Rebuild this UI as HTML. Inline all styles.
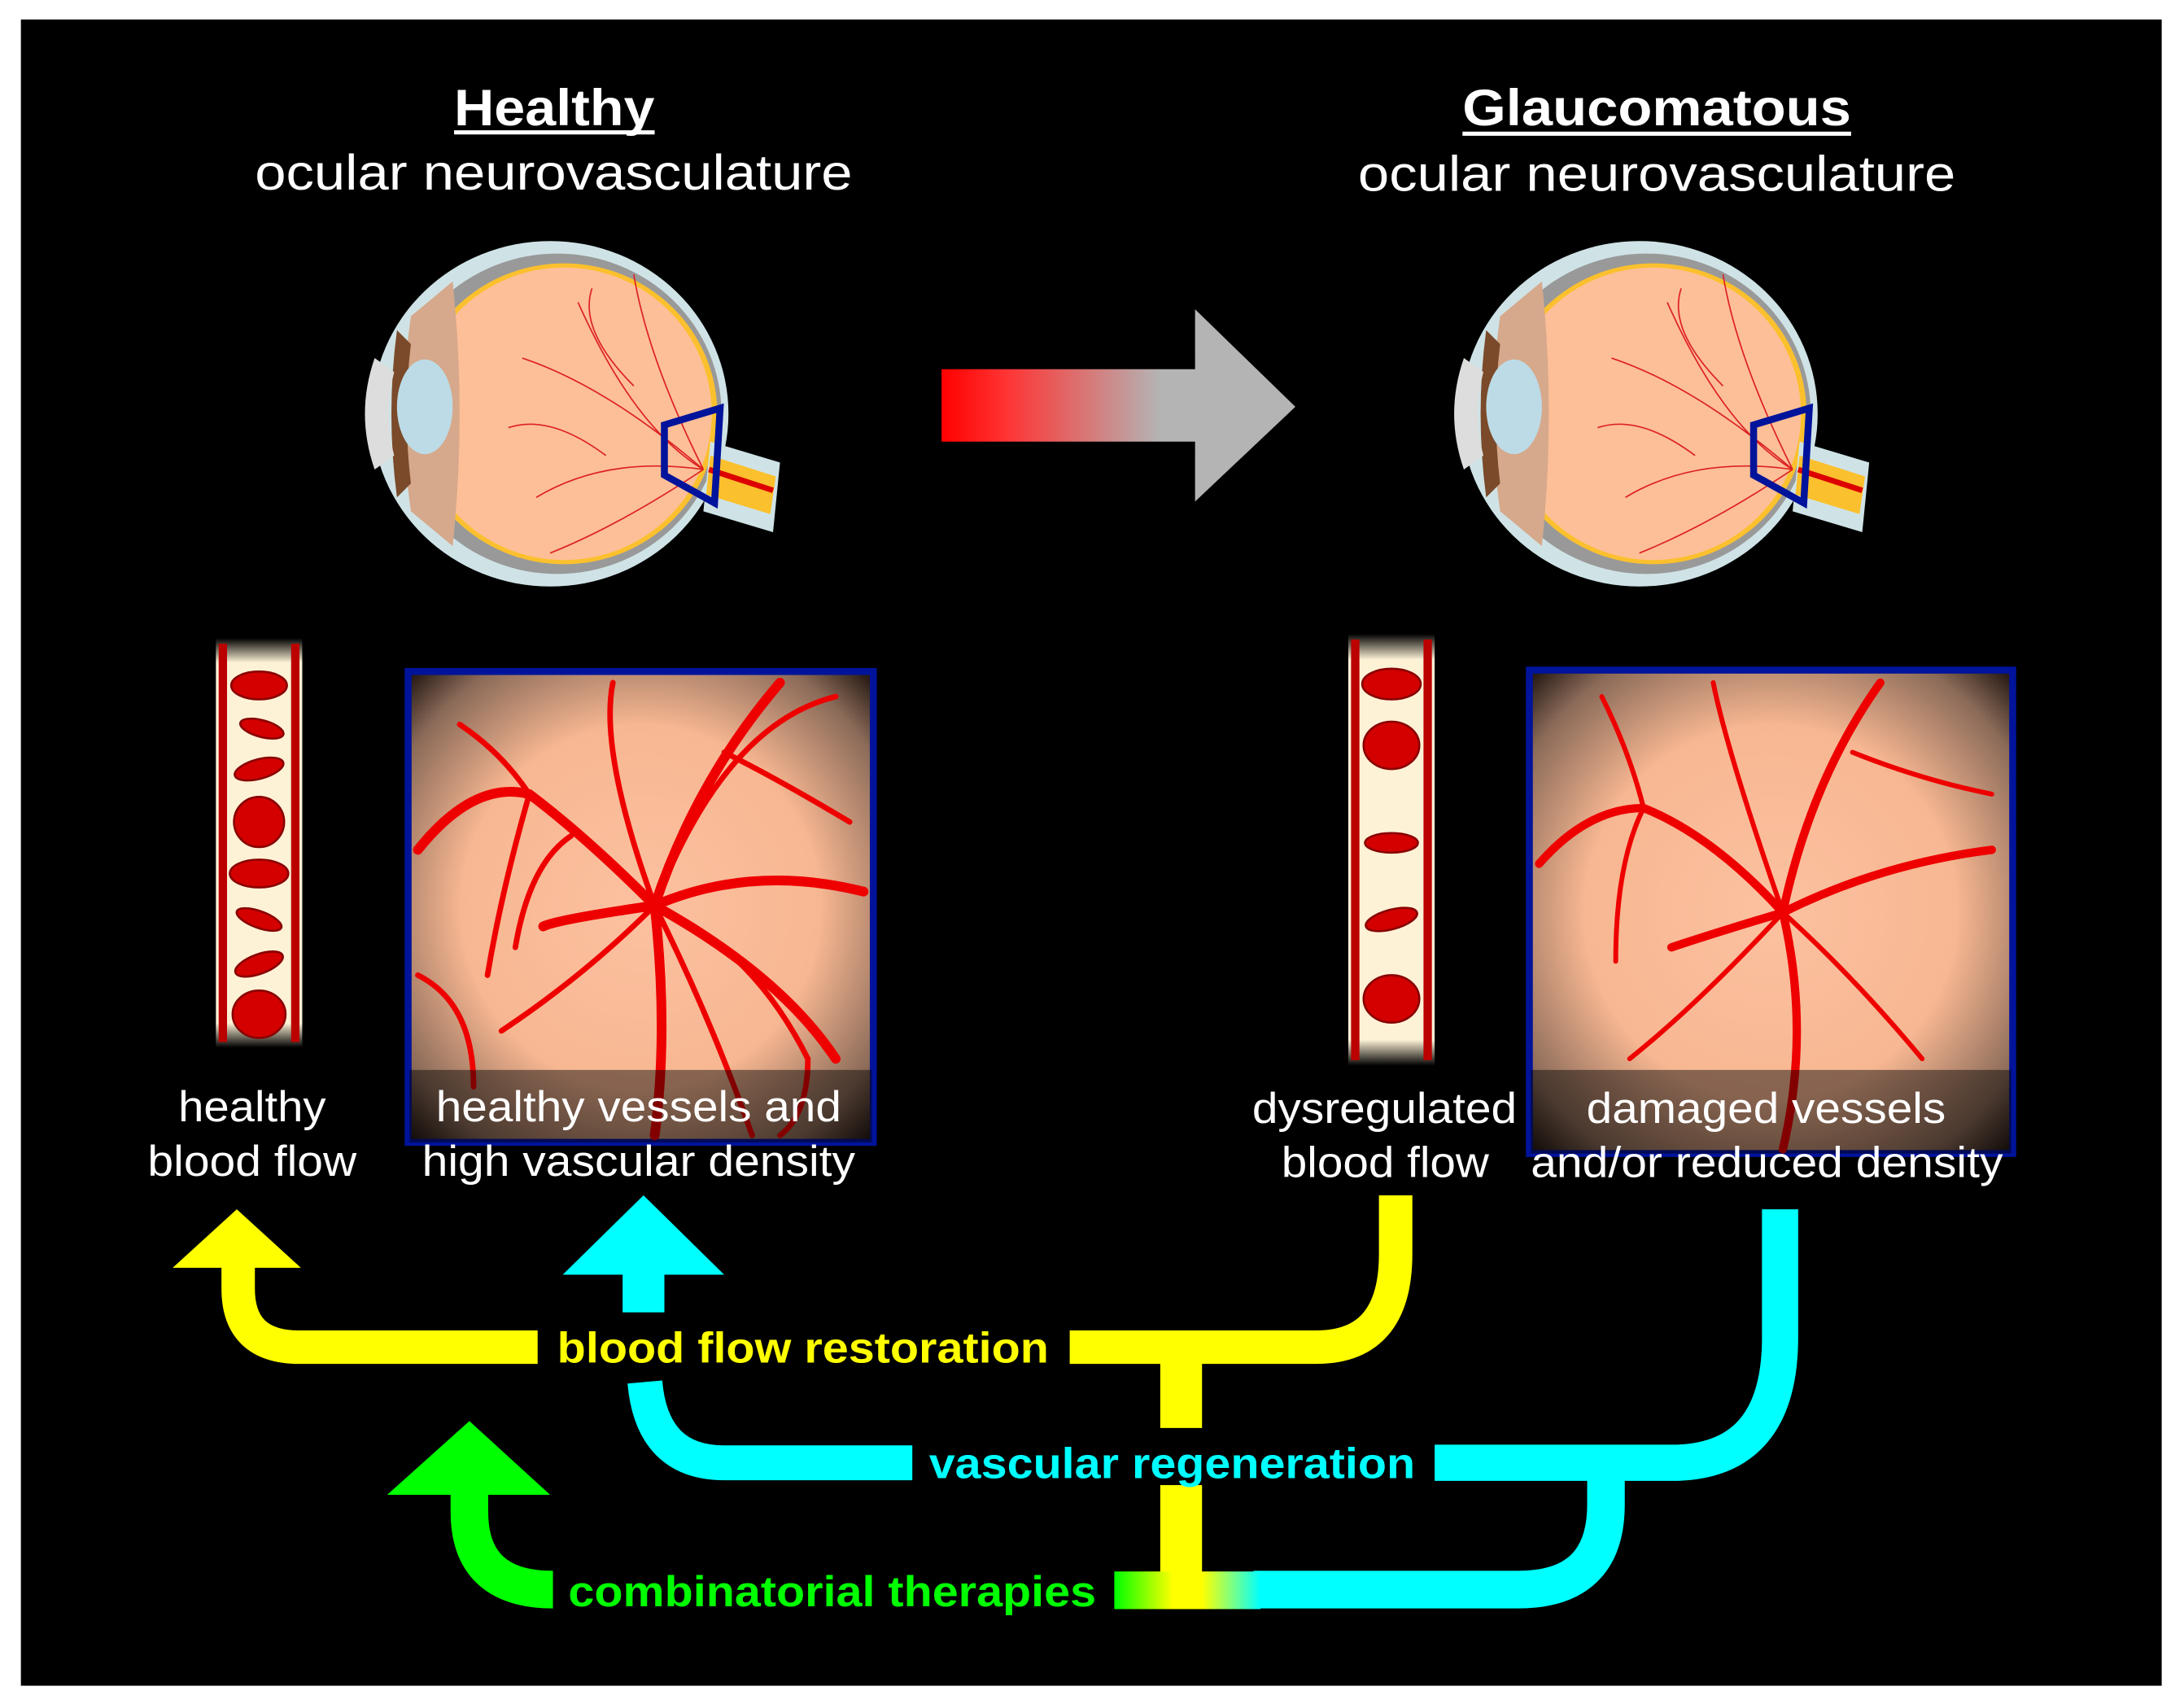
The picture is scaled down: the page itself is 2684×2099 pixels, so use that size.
<!DOCTYPE html>
<html><head><meta charset="utf-8"><style>
html,body{margin:0;padding:0;background:#fff;}
svg{display:block;}
text{font-family:"Liberation Sans",Arial,sans-serif;}
</style></head><body>
<svg width="2684" height="2099" viewBox="0 0 1568 1226" preserveAspectRatio="none" xmlns="http://www.w3.org/2000/svg">
<defs>
<linearGradient id="arr" x1="0" x2="1" y1="0" y2="0">
<stop offset="0" stop-color="#ff0000"/><stop offset="0.25" stop-color="#f33"/><stop offset="0.85" stop-color="#b4b4b4"/><stop offset="1" stop-color="#b4b4b4"/></linearGradient>
<radialGradient id="fund" cx="0.5" cy="0.5" r="0.7">
<stop offset="0" stop-color="#fcc1a0"/><stop offset="0.55" stop-color="#f7b792"/><stop offset="0.85" stop-color="#8a6a58"/><stop offset="1" stop-color="#201510"/></radialGradient>
<linearGradient id="tube" x1="0" x2="0" y1="0" y2="1">
<stop offset="0" stop-color="#000"/><stop offset="0.06" stop-color="#fdf2d6"/><stop offset="0.94" stop-color="#fdf2d6"/><stop offset="1" stop-color="#000"/></linearGradient>
<linearGradient id="comb" x1="0" x2="1">
<stop offset="0" stop-color="#00ff00"/><stop offset="0.4" stop-color="#ffff00"/><stop offset="0.6" stop-color="#ffff00"/><stop offset="1" stop-color="#00ffff"/></linearGradient>
<g id="eye">
<ellipse cx="0" cy="0" rx="128" ry="124" fill="#cfe3e6"/>
<ellipse cx="5" cy="0" rx="118" ry="115" fill="#999"/>
<ellipse cx="10" cy="0" rx="110" ry="108" fill="#fbc02d"/>
<ellipse cx="10" cy="0" rx="106" ry="105" fill="#fdbf97"/>
<path d="M-70 -95 Q-60 0 -70 95 L-100 70 Q-110 0 -100 -70 Z" fill="#d6a98c"/>
<path d="M-110 -60 Q-118 0 -110 60 L-100 50 Q-106 0 -100 -50Z" fill="#7a4a2a"/>
<ellipse cx="-90" cy="-5" rx="20" ry="34" fill="#bcdbe6"/>
<path d="M-126 -40 Q-140 0 -126 40 L-112 30 Q-120 0 -112 -30Z" fill="#ddd"/>
<path d="M115 20 L165 35 L160 85 L110 70Z" fill="#cfe3e6"/>
<path d="M115 30 L162 45 L158 72 L112 58Z" fill="#fbc02d"/>
<path d="M114 40 L160 55" stroke="#d00" stroke-width="4"/>
<g stroke="#d22" stroke-width="1" fill="none">
<path d="M110 40 Q60 10 20 -80"/><path d="M110 40 Q40 -20 -20 -40"/><path d="M110 40 Q40 30 -10 60"/><path d="M110 40 Q50 80 0 100"/><path d="M110 40 Q70 -40 60 -100"/><path d="M60 -20 Q20 -60 30 -90"/><path d="M40 30 Q0 0 -30 10"/>
</g>
<path d="M82 8 L122 -4 L118 64 L82 44 Z" fill="none" stroke="#00139b" stroke-width="5"/>
</g>
</defs>
<rect x="0" y="0" width="1568" height="1226" fill="#fff"/>
<rect x="15" y="14" width="1537" height="1196" fill="#000"/>

<text x="326" y="90" font-size="37" font-weight="bold" fill="#fff" textLength="144" lengthAdjust="spacingAndGlyphs">Healthy</text>
<line x1="326" y1="95" x2="470" y2="95" stroke="#fff" stroke-width="3"/>
<text x="183" y="136" font-size="36" fill="#fff" textLength="429" lengthAdjust="spacingAndGlyphs">ocular neurovasculature</text>
<text x="1050" y="90" font-size="37" font-weight="bold" fill="#fff" textLength="279" lengthAdjust="spacingAndGlyphs">Glaucomatous</text>
<line x1="1050" y1="96" x2="1329" y2="96" stroke="#fff" stroke-width="3"/>
<text x="975" y="137" font-size="36" fill="#fff" textLength="429" lengthAdjust="spacingAndGlyphs">ocular neurovasculature</text>

<use href="#eye" transform="translate(395,297)"/>
<use href="#eye" transform="translate(1177,297)"/>

<rect x="676" y="265" width="184" height="52" fill="url(#arr)"/>
<path d="M858 222 L930 292 L858 360Z" fill="#b4b4b4"/>

<g>
<rect x="155" y="458" width="62" height="294" fill="url(#tube)"/>
<rect x="157" y="462" width="6" height="286" fill="#b00"/><rect x="209" y="462" width="6" height="286" fill="#b00"/>
<g fill="#d40000" stroke="#800" stroke-width="1.5">
<ellipse cx="186" cy="492" rx="20" ry="10"/><ellipse cx="188" cy="523" rx="16" ry="6" transform="rotate(15 188 523)"/><ellipse cx="186" cy="552" rx="18" ry="7" transform="rotate(-15 186 552)"/><ellipse cx="186" cy="590" rx="18" ry="18"/><ellipse cx="186" cy="627" rx="21" ry="10"/><ellipse cx="186" cy="660" rx="17" ry="6" transform="rotate(20 186 660)"/><ellipse cx="186" cy="692" rx="18" ry="7" transform="rotate(-20 186 692)"/><ellipse cx="186" cy="728" rx="19" ry="17"/>
</g>
<rect x="968" y="455" width="62" height="310" fill="url(#tube)"/>
<rect x="970" y="459" width="6" height="302" fill="#b00"/><rect x="1022" y="459" width="6" height="302" fill="#b00"/>
<g fill="#d40000" stroke="#800" stroke-width="1.5">
<ellipse cx="999" cy="491" rx="21" ry="11"/><ellipse cx="999" cy="535" rx="20" ry="17"/><ellipse cx="999" cy="605" rx="19" ry="7"/><ellipse cx="999" cy="660" rx="19" ry="7" transform="rotate(-15 999 660)"/><ellipse cx="999" cy="717" rx="20" ry="17"/>
</g>
</g>

<rect x="293" y="482" width="334" height="338" fill="url(#fund)" stroke="#00139b" stroke-width="5"/>
<g stroke="#ee0000" fill="none" stroke-linecap="round">
<g stroke-width="7"><path d="M470 650 Q420 600 380 570 Q340 560 300 610"/><path d="M470 650 Q500 560 560 490"/><path d="M470 650 Q540 620 620 640"/><path d="M470 650 Q480 740 470 815"/><path d="M470 650 Q400 660 390 665"/><path d="M470 650 Q560 700 600 760"/></g>
<g stroke-width="4"><path d="M470 650 Q430 540 440 490"/><path d="M470 650 Q520 520 600 500"/><path d="M470 650 Q420 700 360 740"/><path d="M470 650 Q540 680 580 760 Q580 800 560 815"/><path d="M380 570 Q360 640 350 700"/><path d="M470 650 Q510 730 540 815"/><path d="M410 600 Q380 620 370 680"/><path d="M300 700 Q340 720 340 780"/><path d="M520 540 Q560 560 610 590"/><path d="M330 520 Q360 540 380 570"/></g>
</g>
<rect x="1098" y="481" width="347" height="347" fill="url(#fund)" stroke="#00139b" stroke-width="5"/>
<g stroke="#ee0000" fill="none" stroke-linecap="round">
<g stroke-width="6"><path d="M1280 655 Q1230 600 1180 580 Q1140 580 1105 620"/><path d="M1280 655 Q1300 560 1350 490"/><path d="M1280 655 Q1350 620 1430 610"/><path d="M1280 655 Q1300 740 1280 825"/><path d="M1280 655 Q1230 670 1200 680"/></g>
<g stroke-width="3.5"><path d="M1280 655 Q1240 540 1230 490"/><path d="M1280 655 Q1330 700 1380 760"/><path d="M1280 655 Q1220 720 1170 760"/><path d="M1180 580 Q1160 620 1160 690"/><path d="M1330 540 Q1380 560 1430 570"/><path d="M1150 500 Q1170 540 1180 580"/></g>
</g>
<rect x="294" y="768" width="332" height="52" fill="rgba(0,0,0,0.45)"/>
<rect x="1099" y="768" width="345" height="60" fill="rgba(0,0,0,0.45)"/>

<g font-size="31" fill="#fff" lengthAdjust="spacingAndGlyphs">
<text x="128" y="805" textLength="106" lengthAdjust="spacingAndGlyphs">healthy</text><text x="106" y="844" textLength="150" lengthAdjust="spacingAndGlyphs">blood flow</text>
<text x="313" y="805" textLength="291" lengthAdjust="spacingAndGlyphs">healthy vessels and</text><text x="303" y="844" textLength="311" lengthAdjust="spacingAndGlyphs">high vascular density</text>
<text x="899" y="806" textLength="190" lengthAdjust="spacingAndGlyphs">dysregulated</text><text x="920" y="845" textLength="149" lengthAdjust="spacingAndGlyphs">blood flow</text>
<text x="1139" y="806" textLength="258" lengthAdjust="spacingAndGlyphs">damaged vessels</text><text x="1099" y="845" textLength="339" lengthAdjust="spacingAndGlyphs">and/or reduced density</text>
</g>

<path d="M124 910 L170 868 L216 910Z" fill="#ffff00"/>
<path d="M171 908 L171 925 Q171 967 215 967 L386 967" stroke="#ffff00" stroke-width="24" fill="none"/>
<path d="M768 967 L945 967 Q1002 967 1002 900 L1002 858" stroke="#ffff00" stroke-width="24" fill="none"/>
<rect x="833" y="978" width="30" height="47" fill="#ffff00"/>
<rect x="833" y="1066" width="30" height="64" fill="#ffff00"/>
<text x="400" y="978" font-size="31" font-weight="bold" fill="#ffff00" textLength="353" lengthAdjust="spacingAndGlyphs">blood flow restoration</text>

<path d="M404 915 L462 858 L520 915Z" fill="#00ffff"/>
<rect x="447" y="913" width="30" height="29" fill="#00ffff"/>
<path d="M463 992 Q468 1050 520 1050 L655 1050" stroke="#00ffff" stroke-width="25" fill="none"/>
<path d="M1030 1050 L1200 1050 Q1278 1050 1278 960 L1278 868" stroke="#00ffff" stroke-width="26" fill="none"/>
<path d="M1153 1060 L1153 1080 Q1153 1141 1090 1141 L900 1141" stroke="#00ffff" stroke-width="27" fill="none"/>
<text x="667" y="1061" font-size="31" font-weight="bold" fill="#00ffff" textLength="349" lengthAdjust="spacingAndGlyphs">vascular regeneration</text>

<path d="M278 1073 L337 1020 L395 1073Z" fill="#00ff00"/>
<path d="M337 1071 L337 1085 Q337 1141 397 1141" stroke="#00ff00" stroke-width="27" fill="none"/>
<rect x="800" y="1128" width="105" height="27" fill="url(#comb)"/>
<text x="408" y="1153" font-size="31" font-weight="bold" fill="#00ff00" textLength="379" lengthAdjust="spacingAndGlyphs">combinatorial therapies</text>
</svg>
</body></html>
